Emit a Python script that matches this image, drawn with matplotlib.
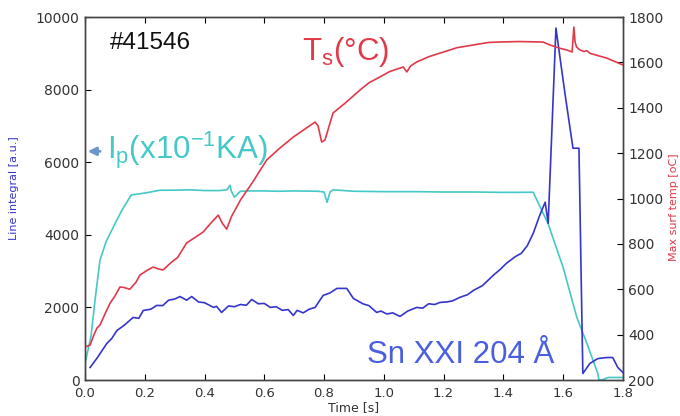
import matplotlib
matplotlib.use("Agg")
import matplotlib.pyplot as plt

# Sn XXI 204 A line integral (left axis, a.u.)
t_sn = [0.017, 0.04, 0.073, 0.09, 0.107, 0.13, 0.161, 0.18, 0.195, 0.22, 0.24, 0.26, 0.28, 0.30,
        0.318, 0.34, 0.357, 0.38, 0.40, 0.43, 0.44, 0.457, 0.48, 0.50, 0.52, 0.54, 0.558, 0.58,
        0.60, 0.62, 0.64, 0.66, 0.68, 0.697, 0.71, 0.73, 0.75, 0.77, 0.797, 0.82, 0.843, 0.876,
        0.898, 0.93, 0.95, 0.976, 0.99, 1.01, 1.03, 1.054, 1.08, 1.11, 1.13, 1.15, 1.17, 1.188,
        1.21, 1.23, 1.254, 1.28, 1.30, 1.33, 1.366, 1.39, 1.41, 1.44, 1.46, 1.48, 1.50, 1.52,
        1.54, 1.55, 1.576, 1.606, 1.633, 1.653, 1.666, 1.69, 1.716, 1.746, 1.766, 1.783, 1.8]
sn = [345, 600, 1007, 1150, 1366, 1500, 1724, 1700, 1917, 1950, 2055, 2050, 2200, 2230,
      2300, 2200, 2300, 2150, 2130, 2000, 2030, 1862, 2040, 2020, 2080, 2060, 2220, 2100,
      2110, 2000, 2020, 1920, 1940, 1780, 1920, 1850, 1950, 2000, 2331, 2400, 2524, 2524,
      2248, 2100, 2050, 1862, 1900, 1820, 1850, 1752, 1900, 2000, 1980, 2100, 2080, 2138,
      2150, 2180, 2276, 2350, 2469, 2600, 2883, 3050, 3214, 3400, 3490, 3700, 4041, 4500,
      4900, 4317, 9697, 7903, 6386, 6386, 180, 460, 590, 620, 620, 345, 207]

# Plasma current Ip (x10^-1 kA), left axis
t_ip = [0.0, 0.02, 0.035, 0.05, 0.07, 0.1, 0.125, 0.144, 0.155, 0.2, 0.25, 0.3, 0.35, 0.4,
        0.45, 0.475, 0.485, 0.49, 0.5, 0.51, 0.52, 0.55, 0.6, 0.65, 0.7, 0.78, 0.8, 0.81, 0.82,
        0.83, 0.9, 1.0, 1.1, 1.2, 1.3, 1.4, 1.5, 1.51, 1.55, 1.6, 1.646, 1.68, 1.716, 1.72,
        1.73, 1.75, 1.8]
ip = [455, 1200, 2300, 3296, 3800, 4300, 4700, 4952, 5100, 5150, 5228, 5230, 5240, 5220,
      5220, 5240, 5366, 5200, 5035, 5120, 5200, 5210, 5210, 5200, 5210, 5200, 5180, 4896, 5180,
      5240, 5200, 5190, 5190, 5180, 5180, 5170, 5173, 5000, 4300, 3103, 1724, 1000, 180, 0,
      0, 70, 70]

# Max surface temperature (right axis, degC)
t_ts = [0.0, 0.017, 0.03, 0.04, 0.05, 0.07, 0.084, 0.10, 0.117, 0.13, 0.15, 0.17, 0.184, 0.21,
        0.228, 0.245, 0.261, 0.29, 0.31, 0.34, 0.37, 0.395, 0.42, 0.446, 0.46, 0.474, 0.49,
        0.52, 0.56, 0.608, 0.65, 0.697, 0.74, 0.77, 0.78, 0.792, 0.803, 0.83, 0.87, 0.92, 0.95,
        0.987, 1.02, 1.054, 1.065, 1.077, 1.09, 1.11, 1.15, 1.188, 1.245, 1.3, 1.35, 1.388,
        1.45, 1.532, 1.556, 1.59, 1.612, 1.63, 1.633, 1.636, 1.64, 1.645, 1.656, 1.67, 1.679,
        1.69, 1.746, 1.8]
ts = [345, 354, 400, 429, 442, 500, 539, 570, 610, 608, 600, 630, 663, 685,
      698, 690, 685, 720, 740, 804, 830, 852, 890, 927, 890, 865, 920,
      993, 1070, 1170, 1220, 1271, 1310, 1337, 1320, 1249, 1258, 1377, 1420, 1478, 1510,
      1536, 1560, 1575, 1580, 1558, 1585, 1602, 1625, 1641, 1665, 1677, 1688, 1690,
      1692, 1690, 1677, 1662, 1655, 1646, 1700, 1756, 1690, 1668, 1655, 1648, 1652,
      1640, 1619, 1589]

x_ticks = [0.0, 0.2, 0.4, 0.6, 0.8, 1.0, 1.2, 1.4, 1.6, 1.8]
y_ticks = [0, 2000, 4000, 6000, 8000, 10000]
y2_ticks = [200, 400, 600, 800, 1000, 1200, 1400, 1600, 1800]

C_BLUE = "#3535cc"
C_CYAN = "#45c8c8"
C_RED = "#e03a4a"

fig = plt.figure(figsize=(6.8, 4.16), dpi=100)
ax = fig.add_axes([0.125, 0.0865, 0.791, 0.8725])
ax2 = ax.twinx()

ax.plot(t_ip, ip, color=C_CYAN, lw=1.2, zorder=2)
ax.plot(t_sn, sn, color=C_BLUE, lw=1.2, zorder=3)
ax2.plot(t_ts, ts, color=C_RED, lw=1.2)

ax.set_xlim(0, 1.8)
ax.set_ylim(0, 10000)
ax2.set_ylim(200, 1800)
ax.set_xticks(x_ticks)
ax.set_xticklabels([f"{v:.1f}" for v in x_ticks])
ax.set_yticks(y_ticks)
ax2.set_yticks(y2_ticks)

tick_col = "#333333"
ax.tick_params(direction="in", top=True, length=4, labelsize=10, labelcolor=tick_col, pad=4)
ax2.tick_params(direction="in", length=4, labelsize=10, labelcolor=tick_col, pad=4)
ax.tick_params(axis="x", labelsize=9.5, pad=5)
for a in (ax, ax2):
    for s in a.spines.values():
        s.set_color("#444444")
        s.set_linewidth(1.0)

ax.set_xlabel("Time [s]", fontsize=9, color=tick_col, labelpad=1)
ax.set_ylabel("Line integral [a.u.]", fontsize=8, color=C_BLUE)
ax.yaxis.set_label_coords(-0.122, 0.53)
ax2.set_ylabel("Max surf temp [oC]", fontsize=8, color=C_RED)
ax2.yaxis.set_label_coords(1.086, 0.475)

txtfont = "Liberation Sans"
ax.text(0.084, 9283, "#41546", fontsize=17.5, color="#111111", family=txtfont, va="center")
ax.text(0.725, 9050, r"T$_\mathregular{s}$(°C)", fontsize=22.5, color=C_RED, family=txtfont,
        va="center")
ax.text(0.075, 6330, r"I$_\mathregular{p}$(x10$^\mathregular{-1}$KA)", fontsize=22.5, color=C_CYAN,
        family=txtfont, va="center")
ax.text(1.572, 700, "Sn XXI 204 Å", fontsize=22.5, color="#4a5ee0", family=txtfont,
        va="center", ha="right")
ax.annotate("", xy=(0.0, 6300), xytext=(0.06, 6300),
            arrowprops=dict(arrowstyle="-|>", color="#6b98cc", lw=2.0, mutation_scale=12))

fig.savefig("out.png", dpi=100)
